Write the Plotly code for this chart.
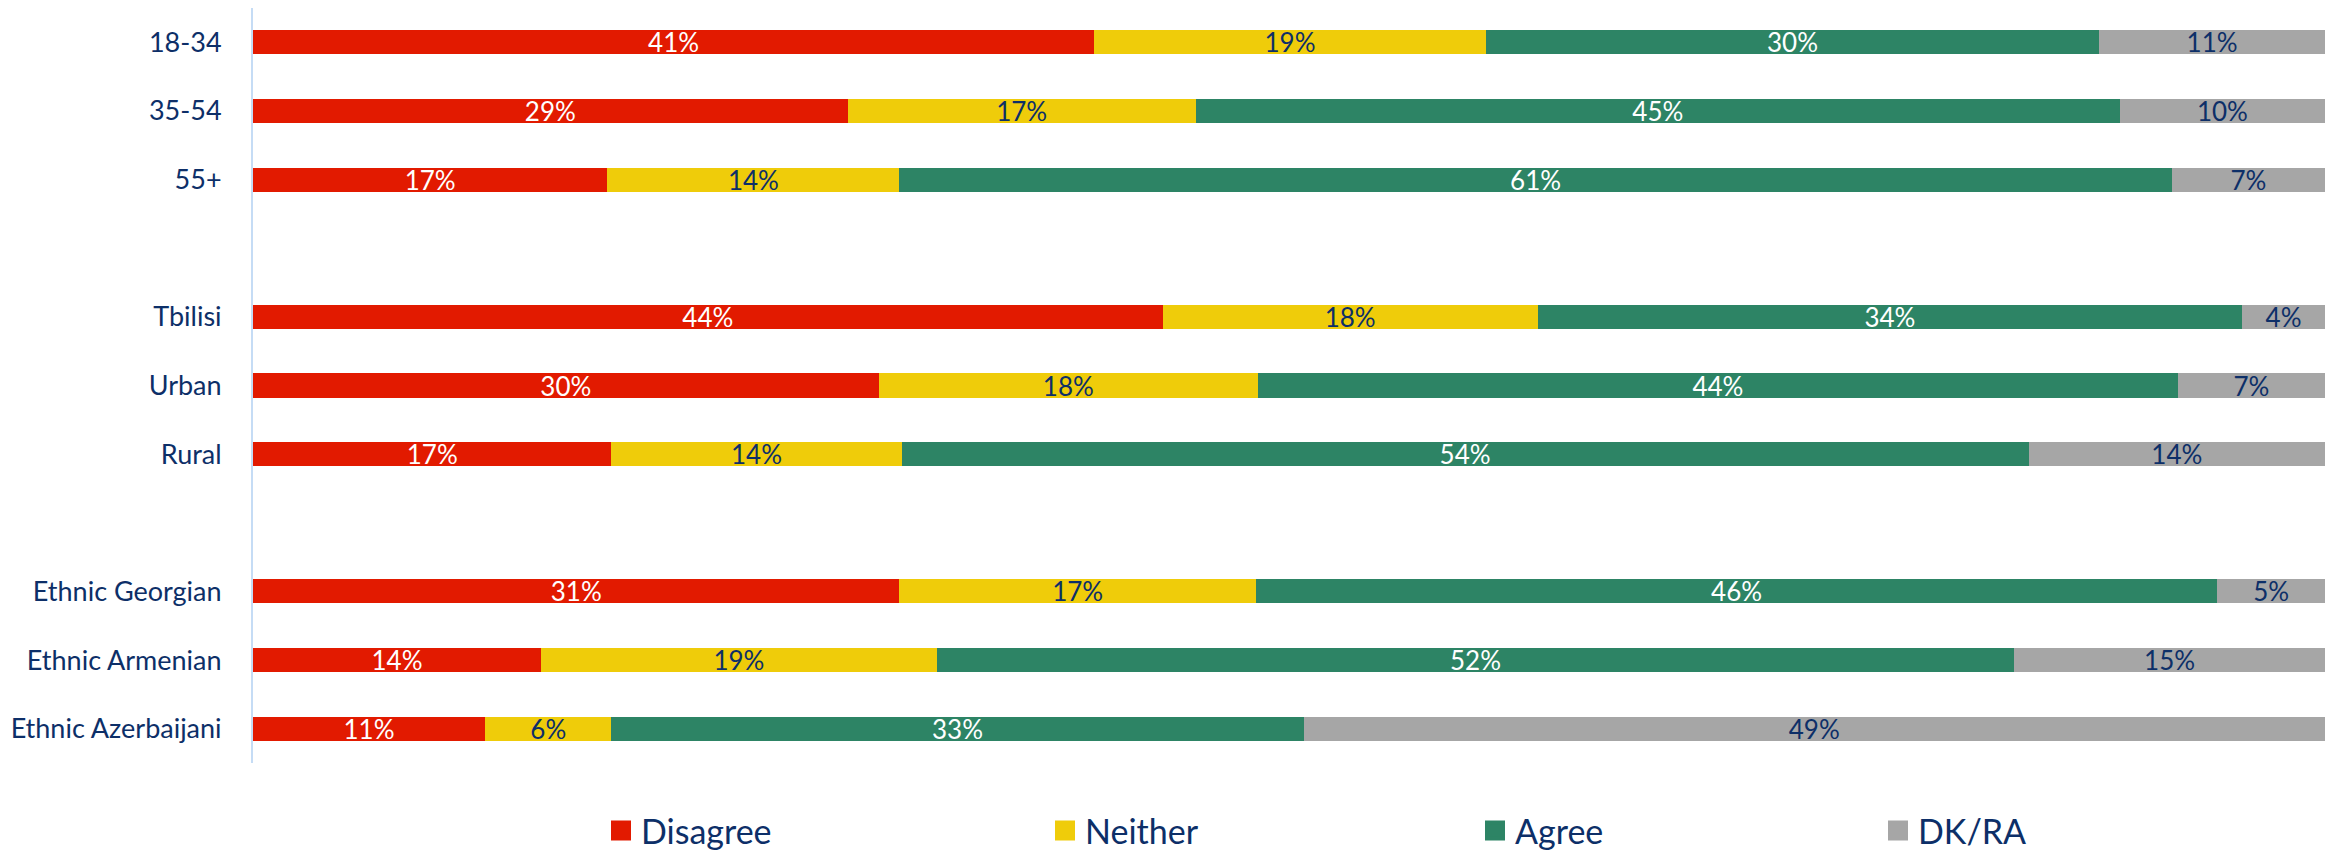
import plotly.graph_objects as go

# ---- data ----
categories = ["18-34", "35-54", "55+", " ", "Tbilisi", "Urban", "Rural", "  ",
              "Ethnic Georgian", "Ethnic Armenian", "Ethnic Azerbaijani"]
bar_categories = ["18-34", "35-54", "55+", "Tbilisi", "Urban", "Rural",
                  "Ethnic Georgian", "Ethnic Armenian", "Ethnic Azerbaijani"]
disagree = [40.6, 28.7, 17.1, 43.9, 30.2, 17.3, 31.2, 13.9, 11.2]
neither = [18.9, 16.8, 14.1, 18.1, 18.3, 14.0, 17.2, 19.1, 6.1]
agree = [29.6, 44.6, 61.4, 34.0, 44.4, 54.4, 46.4, 52.0, 33.4]
dkra = [10.9, 9.9, 7.4, 4.0, 7.1, 14.3, 5.2, 15.0, 49.3]

series_names = ["Disagree", "Neither", "Agree", "DK/RA"]
series_values = [disagree, neither, agree, dkra]
series_colors = ["#E21A00", "#EFCC0A", "#2D8465", "#A6A6A6"]
text_colors = ["#FFFFFF", "#0D2F68", "#FFFFFF", "#0D2F68"]
legend_ids = ["legend", "legend2", "legend3", "legend4"]

NAVY = "#0D2F68"
FONT = "Lato"
PAGE_OFFSET = 8                       # default body margin of the html page
W, H = 2338 - PAGE_OFFSET, 852 - PAGE_OFFSET
legend_x_px = [601 - PAGE_OFFSET, 1045 - PAGE_OFFSET,
               1475 - PAGE_OFFSET, 1878 - PAGE_OFFSET]   # left edge of each legend entry
legend_y_px = 831 - PAGE_OFFSET

fig = go.Figure()
for name, vals, col, tcol in zip(series_names, series_values, series_colors, text_colors):
    fig.add_trace(go.Bar(
        y=bar_categories, x=vals, name=name, orientation="h",
        marker=dict(color=col, line=dict(width=0)),
        width=0.35,
        texttemplate="%{x:.0f}%", textposition="inside",
        insidetextanchor="middle", textangle=0, constraintext="none",
        textfont=dict(family=FONT, size=26, color=tcol),
        showlegend=False, hoverinfo="skip",
    ))

# legend entries (one legend per entry so they can be spaced like the original)
for name, col, lid in zip(series_names, series_colors, legend_ids):
    fig.add_trace(go.Scatter(
        x=[None], y=[None], mode="markers", name=name,
        marker=dict(symbol="square", size=16, color=col, line=dict(color=col, width=4)),
        legend=lid, showlegend=True,
    ))

legend_common = dict(orientation="h", xref="container", yref="container",
                     xanchor="left", yanchor="middle", y=1 - legend_y_px / H,
                     font=dict(family=FONT, size=34, color=NAVY),
                     bgcolor="rgba(0,0,0,0)", borderwidth=0)
layout_legends = {}
for lid, px in zip(legend_ids, legend_x_px):
    layout_legends[lid] = dict(legend_common, x=px / W)

fig.update_layout(
    width=W, height=H,
    barmode="stack",
    plot_bgcolor="white", paper_bgcolor="white",
    margin=dict(l=245, r=13, t=0, b=89, autoexpand=False),
    xaxis=dict(range=[0, 100], visible=False, showgrid=False, zeroline=False),
    yaxis=dict(type="category", categoryorder="array", categoryarray=categories,
               range=[len(categories) - 0.5, -0.5],
               tickvals=categories, ticktext=categories,
               showline=True, linecolor="#C5DCF5", linewidth=2,
               showgrid=False, zeroline=False, ticks="",
               ticklabelstandoff=24,
               tickfont=dict(family=FONT, size=27, color=NAVY)),
    **layout_legends,
)

fig.write_html("out.html")
